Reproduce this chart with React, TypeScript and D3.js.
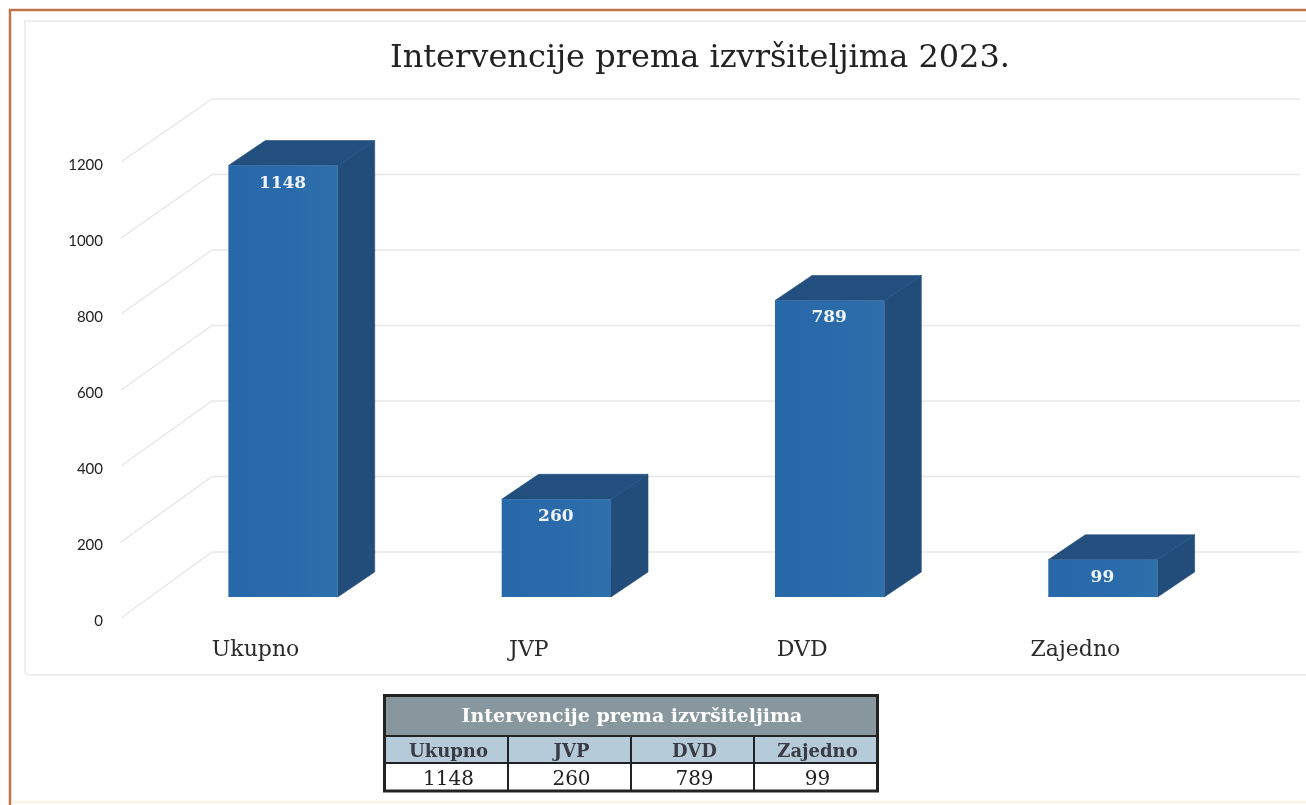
import React, { useEffect, useRef } from 'react';
import * as d3 from 'd3';

const title = 'Intervencije prema izvršiteljima 2023.';
const tableTitle = 'Intervencije prema izvršiteljima';
const categories = ['Ukupno', 'JVP', 'DVD', 'Zajedno'];
const values = [1148, 260, 789, 99];
const yTicks = [0, 200, 400, 600, 800, 1000, 1200];

const serif = '"DejaVu Serif", "Liberation Serif", serif';
const sans = 'Lato, "Open Sans", sans-serif';

export default function App() {
  const svgRef = useRef<SVGSVGElement>(null);

  useEffect(() => {
    const root = d3.select(svgRef.current);
    root.selectAll('*').remove();

    const defs = root.append('defs');
    const grad = defs.append('linearGradient').attr('id', 'front').attr('x1', 0).attr('x2', 1).attr('y1', 0).attr('y2', 0);
    grad.append('stop').attr('offset', '0%').attr('stop-color', '#2767a8');
    grad.append('stop').attr('offset', '100%').attr('stop-color', '#2f6fac');

    defs.append('filter')
      .attr('id', 'soft')
      .attr('filterUnits', 'userSpaceOnUse')
      .attr('x', 0).attr('y', 0).attr('width', 1306).attr('height', 805)
      .append('feGaussianBlur')
      .attr('stdDeviation', 0.45);

    // the reference is a slightly soft scan
    const svg = root.append('g').attr('filter', 'url(#soft)');

    svg.append('rect').attr('width', 1306).attr('height', 805).attr('fill', '#fff');

    // page frame
    svg.append('path')
      .attr('d', 'M1306,10H10V805')
      .attr('fill', 'none')
      .attr('stroke', '#bf7448')
      .attr('stroke-width', 2.5);
    svg.append('line')
      .attr('x1', 12).attr('x2', 1306).attr('y1', 802).attr('y2', 802)
      .attr('stroke', '#f7f5e8').attr('stroke-width', 3);

    // chart area border
    svg.append('path')
      .attr('d', 'M1306,21H25V670Q25,675 30,675H1306')
      .attr('fill', 'none')
      .attr('stroke', '#eeeeee')
      .attr('stroke-width', 2);

    const yBack = d3.scaleLinear().domain([0, 1200]).range([552, 99]);
    const yFront = d3.scaleLinear().domain([0, 1200]).range([618, 162]);
    const yBar = d3.scaleLinear().domain([0, 1200]).range([597, 146]);
    const x = d3.scaleBand<string>()
      .domain(categories)
      .range([146.4, 1239.6])
      .paddingInner(0.6)
      .paddingOuter(0.3);

    const depthX = 37;
    const depthY = 25;
    const wallLeft = 212;
    const floorLeft = 121;

    // grid, side wall then back wall
    svg.append('g')
      .attr('fill', 'none')
      .attr('stroke', '#e8e8e8')
      .attr('stroke-width', 1.5)
      .selectAll('path')
      .data(yTicks)
      .join('path')
      .attr('d', d => `M${floorLeft},${yFront(d)}L${wallLeft},${yBack(d)}H1300`);

    const axis = d3.axisLeft(yFront)
      .tickValues(yTicks)
      .tickFormat(d3.format('d'))
      .tickSize(0)
      .tickPadding(0);
    const axisG = svg.append('g').attr('transform', 'translate(103,3)').call(axis);
    axisG.select('.domain').remove();
    axisG.selectAll('text')
      .attr('font-family', sans)
      .attr('font-size', 15)
      .attr('fill', '#222');

    // bars
    const bars = svg.append('g')
      .selectAll('g')
      .data(categories)
      .join('g');

    bars.each(function (c, i) {
      const g = d3.select(this);
      const x0 = x(c) as number;
      const x1 = x0 + x.bandwidth();
      const top = yBar(values[i]);
      const base = yBar(0);
      g.append('path')
        .attr('d', `M${x0},${top}L${x0 + depthX},${top - depthY}H${x1 + depthX}L${x1},${top}Z`)
        .attr('fill', '#224f7d')
        .attr('stroke', '#224f7d')
        .attr('stroke-width', 0.6);
      g.append('path')
        .attr('d', `M${x1},${top}L${x1 + depthX},${top - depthY}V${base - depthY}L${x1},${base}Z`)
        .attr('fill', '#234e7a')
        .attr('stroke', '#234e7a')
        .attr('stroke-width', 0.6);
      g.append('rect')
        .attr('x', x0)
        .attr('y', top)
        .attr('width', x.bandwidth())
        .attr('height', base - top)
        .attr('fill', 'url(#front)');
      g.append('text')
        .attr('x', x0 + x.bandwidth() / 2 - 0.5)
        .attr('y', top + 22)
        .attr('text-anchor', 'middle')
        .attr('font-family', serif)
        .attr('font-size', 17)
        .attr('font-weight', 700)
        .attr('fill', '#eef3f9')
        .text(values[i]);
      g.append('text')
        .attr('x', x0 + x.bandwidth() / 2 - 27.5)
        .attr('y', 656)
        .attr('text-anchor', 'middle')
        .attr('font-family', serif)
        .attr('font-size', 22)
        .attr('fill', '#2a2a2a')
        .text(c);
    });

    svg.append('text')
      .attr('x', 700)
      .attr('y', 67)
      .attr('text-anchor', 'middle')
      .attr('font-family', serif)
      .attr('font-size', 32)
      .attr('fill', '#222')
      .text(title);

    // table under the chart
    const tx = d3.scaleBand<string>().domain(categories).range([385, 877]);
    const table = svg.append('g');
    table.append('rect').attr('x', 385).attr('y', 696).attr('width', 492).attr('height', 40).attr('fill', '#87979d');
    table.append('rect').attr('x', 385).attr('y', 736).attr('width', 492).attr('height', 27).attr('fill', '#b5cbd9');
    table.append('rect').attr('x', 385).attr('y', 763).attr('width', 492).attr('height', 28).attr('fill', '#fff');
    table.append('text')
      .attr('x', 632).attr('y', 722)
      .attr('text-anchor', 'middle')
      .attr('font-family', serif)
      .attr('font-size', 19)
      .attr('font-weight', 700)
      .attr('fill', '#fff')
      .text(tableTitle);
    categories.forEach((c, i) => {
      const cx = (tx(c) as number) + tx.bandwidth() / 2;
      table.append('text')
        .attr('x', cx + 2).attr('y', 757)
        .attr('text-anchor', 'middle')
        .attr('font-family', serif)
        .attr('font-size', 18)
        .attr('font-weight', 700)
        .attr('fill', '#3a3a44')
        .text(c);
      table.append('text')
        .attr('x', cx + 2).attr('y', 785)
        .attr('text-anchor', 'middle')
        .attr('font-family', serif)
        .attr('font-size', 20)
        .attr('fill', '#222')
        .text(values[i]);
      if (i > 0) {
        table.append('line')
          .attr('x1', tx(c) as number).attr('x2', tx(c) as number)
          .attr('y1', 736).attr('y2', 791)
          .attr('stroke', '#222').attr('stroke-width', 2);
      }
    });
    [736, 763].forEach(y => {
      table.append('line')
        .attr('x1', 385).attr('x2', 877).attr('y1', y).attr('y2', y)
        .attr('stroke', '#222').attr('stroke-width', 2);
    });
    table.append('rect')
      .attr('x', 384.5).attr('y', 695.5).attr('width', 493).attr('height', 95.5)
      .attr('fill', 'none')
      .attr('stroke', '#222')
      .attr('stroke-width', 3);
  }, []);

  return (
    <svg
      ref={svgRef}
      width={1306}
      height={805}
      style={{ position: 'absolute', left: 0, top: 0, display: 'block' }}
    />
  );
}
